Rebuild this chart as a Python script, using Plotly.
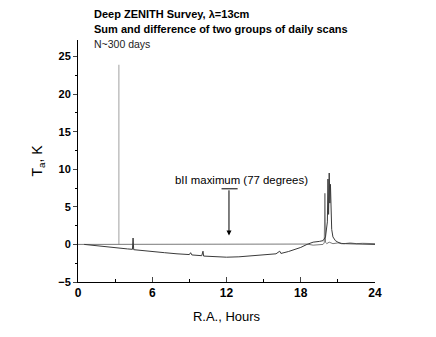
import plotly.graph_objects as go

# difference of the two groups (flat line near zero)
diff_ra = [0, 0.5, 1, 2, 3, 4, 5, 6, 7, 8, 9, 10, 11, 12, 13, 14, 15, 16, 17, 18,
           18.5, 19, 19.5, 19.8, 19.9, 19.95, 20.0, 20.1, 20.3, 20.6, 21, 21.5, 22, 22.5, 23, 23.5, 24]
diff_t = [0, 0, -0.05, 0, 0.05, 0, 0.05, 0, 0, 0.05, 0, 0, 0.05, 0, 0, 0.05, 0, 0, 0, 0.05,
          0.05, -0.1, -0.05, 0, 0.2, 6.8, 0.3, 0.1, 0.3, 0.1, 0.2, 0.1, 0.2, 0.1, 0.15, 0.1, 0.1]

# sum of the two groups
sum_ra = [0.5, 1, 2, 3, 4, 4.4, 4.45, 4.5, 5, 6, 7, 8, 9, 9.1, 9.15, 9.2, 10, 10.1, 10.15,
          11, 12, 13, 14, 15, 16, 16.3, 16.35, 16.4, 17, 17.5, 18, 18.5, 19, 19.5, 19.8, 20.0,
          20.15, 20.2, 20.25, 20.3, 20.35, 20.4, 20.45, 20.5, 20.6, 20.8, 21.0, 21.3, 21.6, 22, 23, 24]
sum_t = [0, -0.1, -0.3, -0.45, -0.6, -0.65, 0.85, -0.7, -0.8, -1.0, -1.1, -1.25, -1.35, -1.1, -1.4, -1.4,
         -1.5, -0.9, -1.55, -1.65, -1.7, -1.65, -1.55, -1.45, -1.25, -0.9, -1.2, -1.2, -0.95, -0.7, -0.4,
         0, 0.3, 0.4, 0.5, 1.0, 3.0, 8.7, 4.0, 9.5, 5.5, 8.0, 4.0, 2.0, 1.0, 0.5, 0.3, 0.1, 0.1, 0.1, 0.05, 0]

# single spike
spike_ra = [3.3, 3.3]
spike_t = [0, 23.9]

fig = go.Figure()
fig.add_trace(go.Scatter(x=spike_ra, y=spike_t, mode='lines', line=dict(color='#c0c0c0', width=1.5), showlegend=False))
fig.add_trace(go.Scatter(x=diff_ra, y=diff_t, mode='lines', line=dict(color='#7a7a7a', width=1), showlegend=False))
fig.add_trace(go.Scatter(x=sum_ra, y=sum_t, mode='lines', line=dict(color='#3a3a3a', width=1), showlegend=False))

# bII maximum marker: T-bar and arrow
fig.add_shape(type='line', x0=11.6, x1=12.9, y0=7.4, y1=7.4, line=dict(color='black', width=1))
fig.add_annotation(x=12.2, y=1.2, ax=12.2, ay=7.4, axref='x', ayref='y', xref='x', yref='y',
                   text='', showarrow=True, arrowhead=2, arrowsize=1, arrowwidth=1, arrowcolor='black')
fig.add_annotation(x=13.2, y=8.6, text='bII maximum (77 degrees)', showarrow=False,
                   font=dict(family='Liberation Sans', size=11.4, color='black'))

# header text
fig.add_annotation(xref='paper', yref='paper', x=0.047, y=1.108, xanchor='left', yanchor='middle',
                   text='<b>Deep ZENITH Survey, λ=13cm</b>', showarrow=False,
                   font=dict(family='Liberation Sans', size=11, color='black'))
fig.add_annotation(xref='paper', yref='paper', x=0.047, y=1.045, xanchor='left', yanchor='middle',
                   text='<b>Sum and difference of two groups of daily scans</b>', showarrow=False,
                   font=dict(family='Liberation Sans', size=11, color='black'))
fig.add_annotation(xref='paper', yref='paper', x=0.047, y=0.985, xanchor='left', yanchor='middle',
                   text='N~300 days', showarrow=False,
                   font=dict(family='Liberation Sans', size=10.5, color='#222'))

fig.update_layout(
    width=436, height=337,
    margin=dict(l=70, r=69, t=32, b=63, autoexpand=False),
    plot_bgcolor='white', paper_bgcolor='white',
    font=dict(family='Liberation Sans', color='black'),
    xaxis=dict(range=[0, 24], tickvals=[0, 6, 12, 18, 24], ticks='inside', ticklen=5,
               minor=dict(tickvals=[3, 9, 15, 21], ticks='inside', ticklen=3, tickcolor='black'),
               showline=True, linecolor='black', linewidth=1, showgrid=False, zeroline=False,
               tickfont=dict(size=12, family='Liberation Sans', weight='bold'), automargin=False,
               title=dict(text='R.A., Hours', font=dict(size=13), standoff=12)),
    yaxis=dict(range=[-5, 27.2], tickvals=[-5, 0, 5, 10, 15, 20, 25], ticks='outside', ticklen=4,
               minor=dict(tickvals=[-2.5, 2.5, 7.5, 12.5, 17.5, 22.5], ticks='outside', ticklen=2, tickcolor='black'),
               showline=True, linecolor='black', linewidth=1, showgrid=False, zeroline=False,
               tickfont=dict(size=11, family='Liberation Sans', weight='bold'), automargin=False,
               title=dict(text='T<sub>a</sub>, K', font=dict(size=14), standoff=12)),
)

fig.write_html("out.html")
